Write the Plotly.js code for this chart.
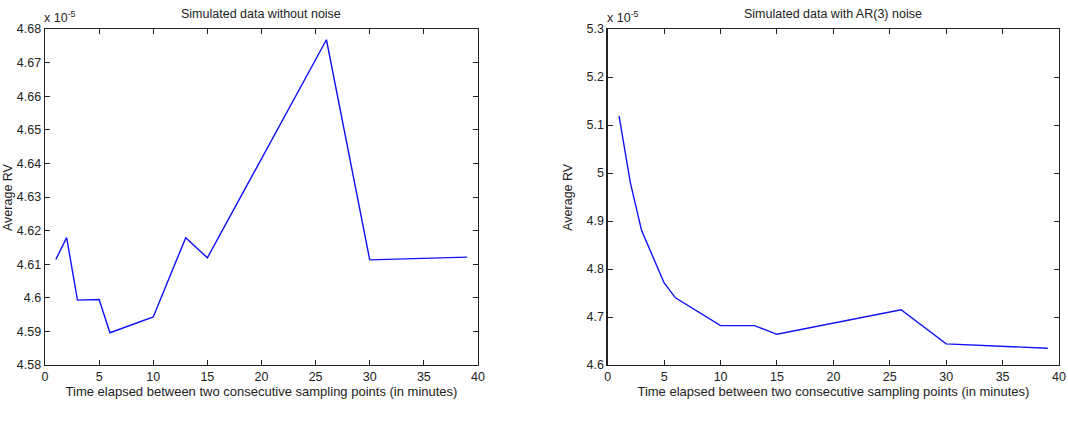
<!DOCTYPE html>
<html>
<head>
<meta charset="utf-8">
<script src="https://cdn.plot.ly/plotly-3.0.1.min.js"></script>
<style>
  html, body { margin: 0; padding: 0; background: #fff; }
  #chart { width: 1068px; height: 426px; }
</style>
</head>
<body>
<div id="chart"></div>
<script>
// Sampling interval (minutes) shared by both panels
const minutes = [1, 2, 3, 5, 6, 10, 13, 15, 26, 30, 39];

// Average realized variance, in units of 1e-5
const rvNoNoise = [4.6114, 4.6179, 4.5993, 4.5995, 4.5896, 4.5943, 4.6179, 4.6119, 4.6768, 4.6113, 4.6121];
const rvAR3 = [5.119, 4.98, 4.880, 4.771, 4.740, 4.682, 4.682, 4.664, 4.715, 4.644, 4.635];

// Tick labels
const xTicks = [0, 5, 10, 15, 20, 25, 30, 35, 40];
const yTicksLeft = [4.58, 4.59, 4.6, 4.61, 4.62, 4.63, 4.64, 4.65, 4.66, 4.67, 4.68];
const yTicksRight = [4.6, 4.7, 4.8, 4.9, 5, 5.1, 5.2, 5.3];

const panelTitles = ['Simulated data without noise', 'Simulated data with AR(3) noise'];
const xTitle = 'Time elapsed between two consecutive sampling points (in minutes)';
const yTitle = 'Average RV';

const font = { family: 'Liberation Sans, Arial, sans-serif', size: 12.5, color: '#222' };
const titleFont = { family: 'Liberation Sans, Arial, sans-serif', size: 13, color: '#222' };
const lineStyle = { color: '#1010ff', width: 1.4 };

const traces = [
  { x: minutes, y: rvNoNoise, type: 'scatter', mode: 'lines', line: lineStyle, xaxis: 'x', yaxis: 'y', hoverinfo: 'skip' },
  { x: minutes, y: rvAR3, type: 'scatter', mode: 'lines', line: lineStyle, xaxis: 'x2', yaxis: 'y2', hoverinfo: 'skip' }
];

function xAxis(domain, anchor) {
  return {
    domain: domain, anchor: anchor, range: [0, 40],
    tickvals: xTicks, ticktext: xTicks.map(String),
    ticks: 'inside', ticklen: 5, tickcolor: '#222', tickwidth: 1,
    showline: true, linecolor: '#222', linewidth: 1.3, mirror: 'ticks',
    showgrid: false, zeroline: false,
    title: { text: xTitle, font: titleFont, standoff: 2 },
    tickfont: font
  };
}
function yAxis(range, ticks, anchor) {
  return {
    anchor: anchor, range: range, domain: [0, 1],
    tickvals: ticks, ticktext: ticks.map(String),
    ticks: 'inside', ticklen: 5, tickcolor: '#222', tickwidth: 1,
    showline: true, linecolor: '#222', linewidth: 1.3, mirror: 'ticks',
    showgrid: false, zeroline: false,
    tickfont: font
  };
}

function yLabel(ref, shift) {
  return { text: yTitle, xref: ref + ' domain', yref: 'paper', x: 0, y: 0.5, xshift: shift,
           textangle: -90, showarrow: false, font: font, xanchor: 'center', yanchor: 'middle' };
}

const layout = {
  width: 1068, height: 426,
  margin: { l: 45, r: 9, t: 29, b: 61 },
  paper_bgcolor: '#fff', plot_bgcolor: '#fff',
  showlegend: false,
  font: font,
  xaxis: xAxis([0, 0.427], 'y'),
  yaxis: yAxis([4.58, 4.68], yTicksLeft, 'x'),
  xaxis2: xAxis([0.555, 1], 'y2'),
  yaxis2: yAxis([4.6, 5.3], yTicksRight, 'x2'),
  annotations: [
    { text: panelTitles[0], xref: 'x domain', yref: 'paper', x: 0.5, y: 1, yshift: 15, showarrow: false, font: font, xanchor: 'center', yanchor: 'middle' },
    { text: panelTitles[1], xref: 'x2 domain', yref: 'paper', x: 0.5, y: 1, yshift: 15, showarrow: false, font: font, xanchor: 'center', yanchor: 'middle' },
    { text: 'x 10<sup>-5</sup>', xref: 'x domain', yref: 'paper', x: 0, y: 1, xshift: -3, yshift: 2, showarrow: false, font: font, xanchor: 'left', yanchor: 'bottom' },
    { text: 'x 10<sup>-5</sup>', xref: 'x2 domain', yref: 'paper', x: 0, y: 1, xshift: -3, yshift: 2, showarrow: false, font: font, xanchor: 'left', yanchor: 'bottom' },
    yLabel('x', -37),
    yLabel('x2', -40)
  ]
};

Plotly.newPlot('chart', traces, layout, { staticPlot: true, displayModeBar: false });
</script>
</body>
</html>
